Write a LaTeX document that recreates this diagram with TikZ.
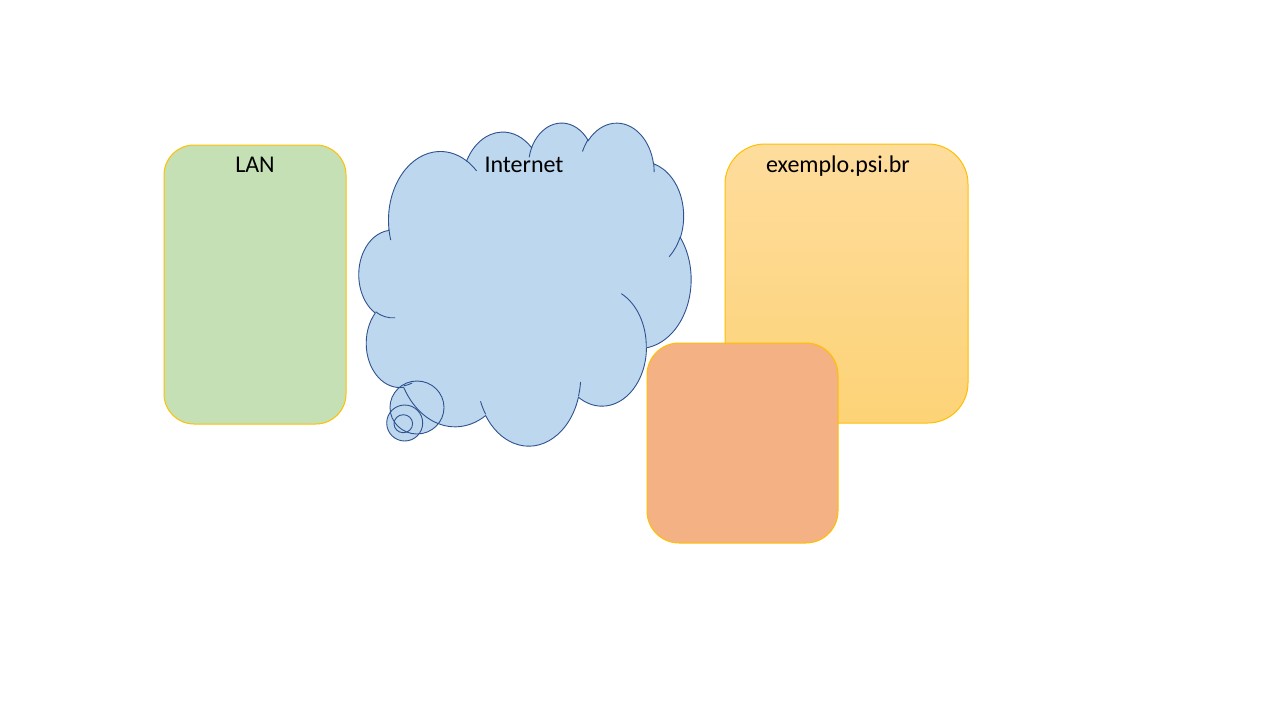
\documentclass[tikz,border=0pt]{standalone}
\usepackage{fontspec}
\setmainfont{Carlito}
\definecolor{lanfill}{HTML}{C5E0B4}
\definecolor{boxline}{HTML}{FFC000}
\definecolor{orfill}{HTML}{F4B183}
\definecolor{extop}{HTML}{FEDC9C}
\definecolor{exbot}{HTML}{FDD377}
\definecolor{cloudfill}{HTML}{BDD7EE}
\definecolor{cloudline}{HTML}{2F528F}
\makeatletter
\pgfmathdeclarefunction{vpa}{3}{%
  \begingroup
    \pgfmathparse{atan2((#2)*sin(#1),(#3)*cos(#1))}%
    \let\vpat\pgfmathresult
    \pgfmathparse{(#1)+atan2(sin(\vpat-(#1)),cos(\vpat-(#1)))}%
    \pgfmath@smuggleone\pgfmathresult
  \endgroup}
\makeatother
\newcommand\cloudpath{(39.00,143.70)}
\newcommand\innerpath{}
\newcommand\cladd[4]{%
  \pgfmathsetmacro\clS{vpa(#3,#1,#2)}%
  \pgfmathsetmacro\clE{vpa(#3+#4,#1,#2)}%
  \xdef\cloudpath{\cloudpath arc[x radius=#1,y radius=#2,start angle=\clS,end angle=\clE]}}
\newcommand\clinner[6]{%
  \pgfmathsetmacro\clS{vpa(#5,#3,#4)}%
  \pgfmathsetmacro\clE{vpa(#5+#6,#3,#4)}%
  \xdef\innerpath{\innerpath (#1,#2) arc[x radius=#3,y radius=#4,start angle=\clS,end angle=\clE]}}
\cladd{67.53}{91.90}{-190.48748}{123.78053}
\cladd{53.33}{72.67}{-144.10238}{89.94523}
\cladd{43.65}{59.45}{-145.80792}{99.72302}
\cladd{48.57}{65.95}{-130.98607}{117.24173}
\cladd{53.33}{72.73}{-78.70888}{109.02692}
\cladd{67.75}{92.20}{-46.26725}{130.26900}
\cladd{57.85}{78.67}{0.62502}{114.03333}
\cladd{67.52}{92.15}{22.45160}{115.17255}
\cladd{77.20}{105.43}{66.24263}{75.71102}
\cladd{43.60}{59.18}{-274.94208}{146.73557}
\cladd{43.45}{59.45}{-246.82850}{152.51885}
\xdef\cloudpath{\cloudpath -- cycle}
\clinner{46.93}{261.77}{43.45}{59.45}{86.74200}{26.42950}
\clinner{69.28}{348.99}{43.60}{59.18}{73.61047}{11.44747}
\clinner{164.78}{390.90}{67.52}{92.15}{137.62415}{14.08110}
\clinner{288.27}{347.51}{67.52}{92.15}{6.45327}{15.99835}
\clinner{341.29}{229.54}{57.85}{78.67}{-70.29235}{70.91737}
\clinner{417.98}{153.54}{53.33}{72.73}{30.31803}{27.75150}
\clinner{383.24}{54.26}{48.57}{65.95}{-13.74433}{14.85890}
\clinner{290.78}{39.52}{48.57}{65.95}{-149.18145}{18.19537}
\clinner{221.41}{47.20}{43.65}{59.45}{-163.49427}{17.68635}
\clinner{140.00}{51.92}{67.53}{91.90}{-66.70695}{12.31935}
\clinner{41.27}{157.89}{67.53}{91.90}{157.65435}{11.85817}
\tikzset{
  boxshape/.style={draw=boxline, line width=1pt, inner sep=0pt},
  lbl/.style={anchor=base, inner sep=0pt, font=\fontsize{24}{28}\selectfont, text=black},
  cloudstroke/.style={draw=cloudline, line width=0.9pt},
}
\begin{document}
\begin{tikzpicture}[x=1pt,y=-1pt]
\useasboundingbox[fill=white] (0,0) rectangle (1280,720);
% LAN box
\node[boxshape, fill=lanfill, minimum width=182pt, minimum height=279pt, rounded corners=30pt] (lan) at (255,284.5) {};
\node[lbl] (lanlbl) at (255,172.5) {LAN};
% exemplo box
\node[boxshape, top color=extop, bottom color=exbot, minimum width=243pt, minimum height=279pt, rounded corners=40pt] (ex) at (846.5,283.5) {};
\node[lbl] (exlbl) at (838,172.5) {exemplo.psi.br};
% orange box
\node[boxshape, fill=orfill, minimum width=191pt, minimum height=200pt, rounded corners=32pt] (or) at (742.5,443) {};
% cloud callout
\begin{scope}[shift={(359,122)}, xscale=0.76852, yscale=0.74769]
  \fill[cloudfill] \cloudpath;
\end{scope}
\fill[cloudfill] (417,407.5) ellipse [x radius=27, y radius=26.5];
\fill[cloudfill] (404.7,423) ellipse [x radius=18, y radius=18];
\fill[cloudfill] (403.3,423.7) ellipse [x radius=9.3, y radius=9];
\begin{scope}[shift={(359,122)}, xscale=0.76852, yscale=0.74769]
  \draw[cloudstroke] \cloudpath;
  \draw[cloudstroke] \innerpath;
\end{scope}
\draw[cloudstroke] (417,407.5) ellipse [x radius=27, y radius=26.5];
\draw[cloudstroke] (404.7,423) ellipse [x radius=18, y radius=18];
\draw[cloudstroke] (403.3,423.7) ellipse [x radius=9.3, y radius=9];
\node[lbl] (netlbl) at (524,172.5) {Internet};
\end{tikzpicture}
\end{document}
